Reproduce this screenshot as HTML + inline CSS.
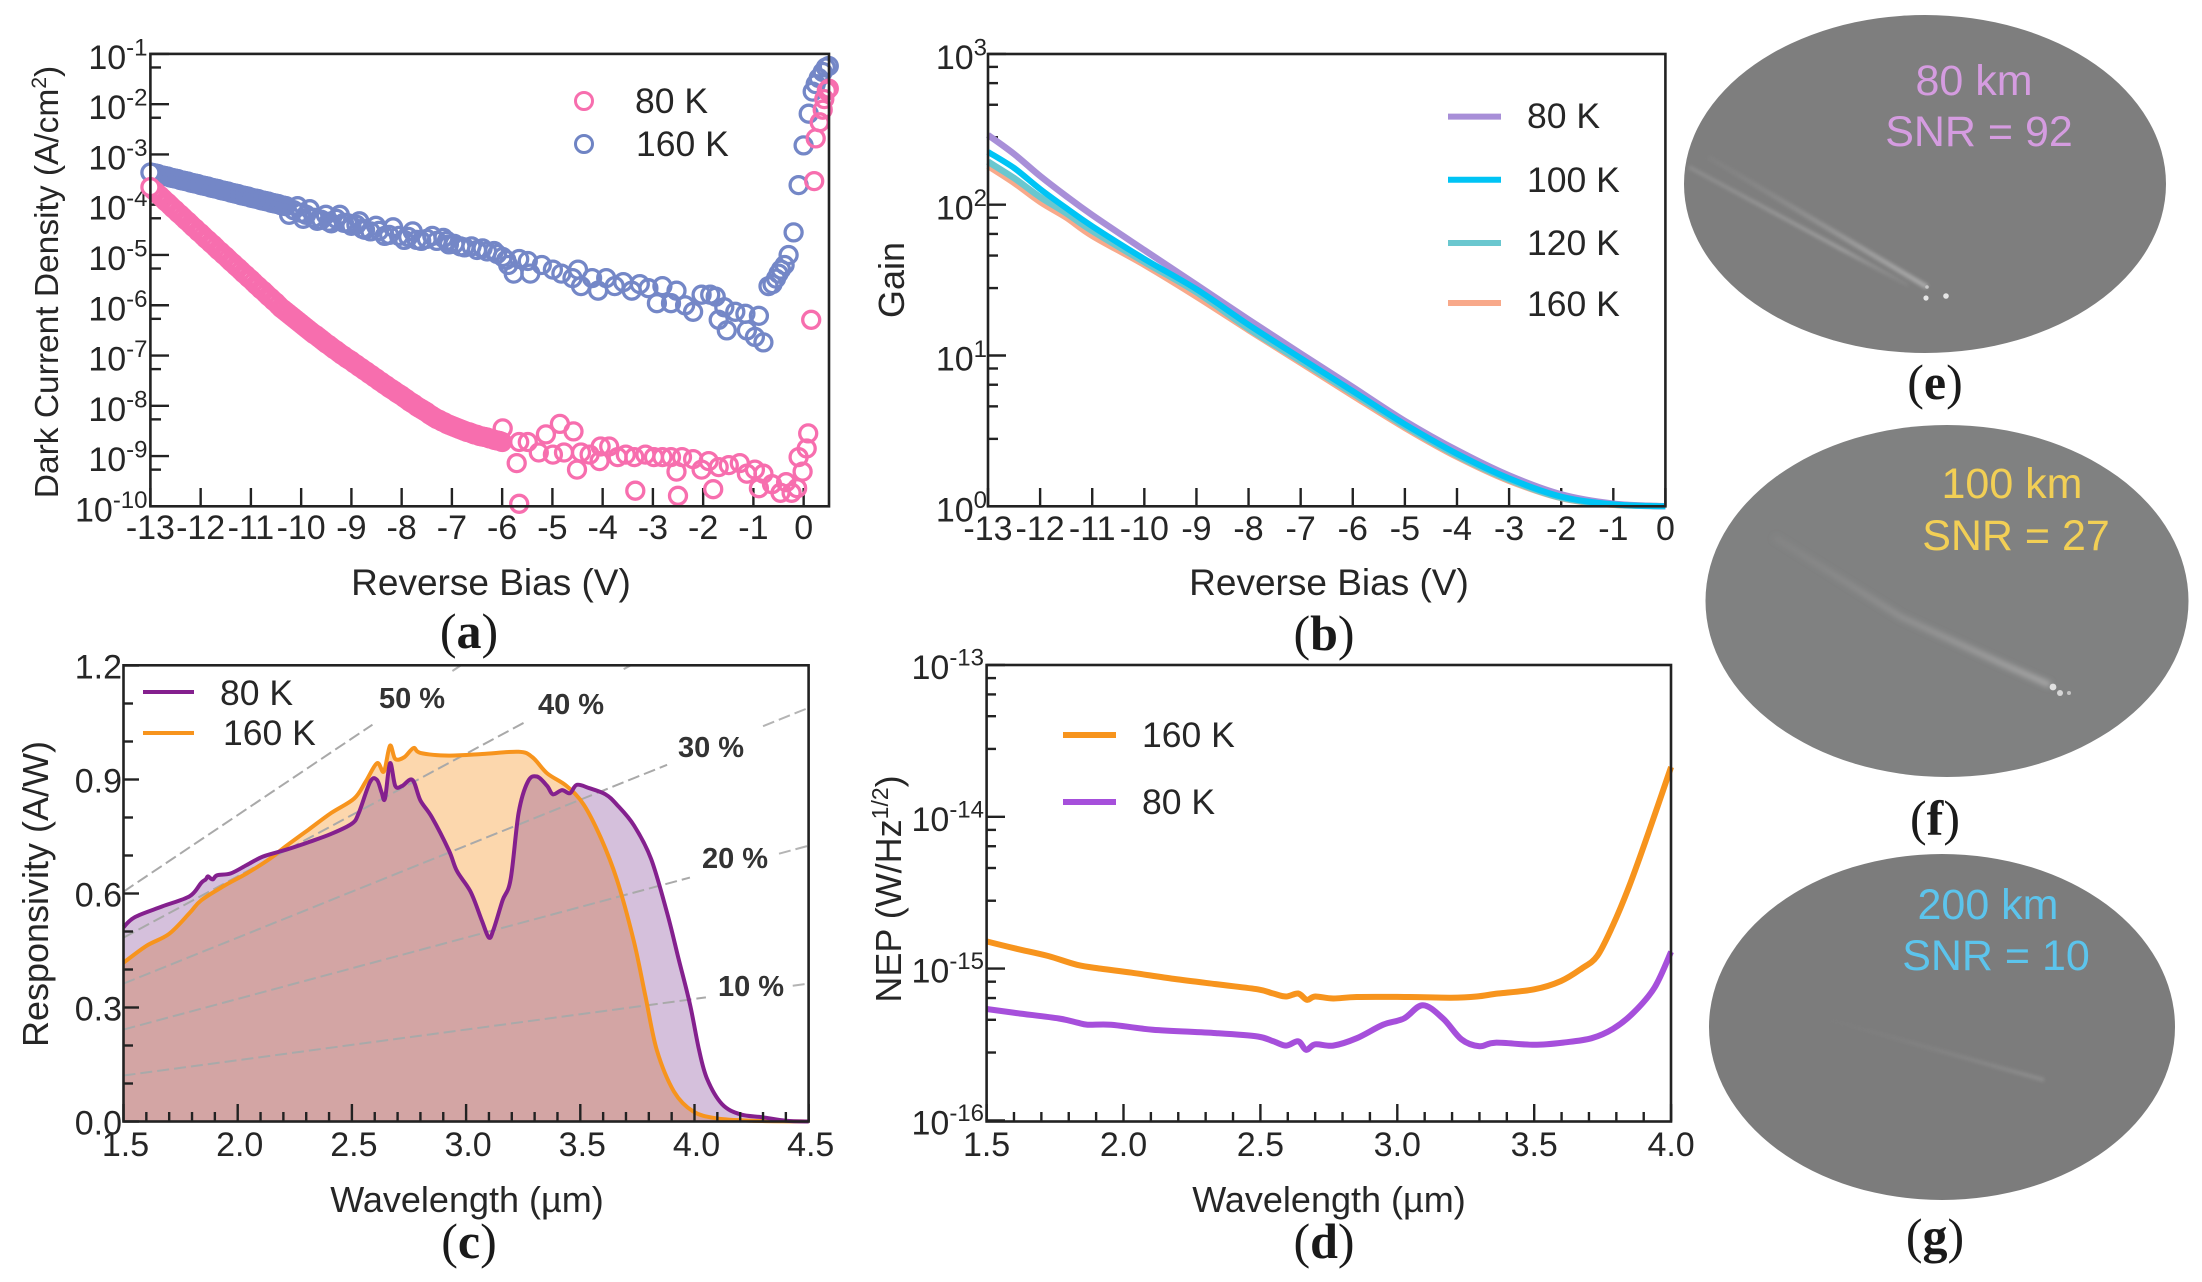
<!DOCTYPE html>
<html lang="en">
<head>
<meta charset="utf-8">
<title>Detector characterization panels</title>
<style>
  html, body { margin: 0; padding: 0; background: #fff; }
  body { width: 2202px; height: 1282px; overflow: hidden; }
  svg { display: block; font-family: "Liberation Sans", sans-serif; fill: #262626; }
  .title { font-size: 37px; }
  .tick { font-size: 34px; }
  .legend { font-size: 35.5px; }
  .panel { font-family: "Liberation Serif", serif; font-size: 50px; fill: #1a1a1a; text-anchor: middle; }
  .eta { font-size: 29px; font-weight: bold; text-anchor: middle; fill: #333; }
  .snr { font-size: 43px; text-anchor: middle; }
</style>
</head>
<body>
<svg id="fig" width="2202" height="1282" viewBox="0 0 2202 1282" xmlns="http://www.w3.org/2000/svg">
  <defs>
    <filter id="soft" x="-10%" y="-50%" width="120%" height="200%"><feGaussianBlur stdDeviation="1.6"/></filter>
    <filter id="softer" x="-10%" y="-50%" width="120%" height="200%"><feGaussianBlur stdDeviation="2.6"/></filter>
    <linearGradient id="fadeE1" gradientUnits="userSpaceOnUse" x1="1689" y1="167" x2="1908" y2="285"><stop offset="0" stop-color="#8f8f8f" stop-opacity=".8"/><stop offset=".7" stop-color="#9c9c9c"/><stop offset="1" stop-color="#8a8a8a" stop-opacity=".5"/></linearGradient>
    <linearGradient id="fadeE2" gradientUnits="userSpaceOnUse" x1="1708" y1="157" x2="1927" y2="287"><stop offset="0" stop-color="#858585" stop-opacity=".4"/><stop offset=".7" stop-color="#9c9c9c"/><stop offset="1" stop-color="#a8a8a8"/></linearGradient>
    <linearGradient id="fadeF" gradientUnits="userSpaceOnUse" x1="1774" y1="537" x2="2050" y2="685"><stop offset="0" stop-color="#8c8c8c" stop-opacity=".4"/><stop offset="1" stop-color="#a8a8a8"/></linearGradient>
    <linearGradient id="fadeG" gradientUnits="userSpaceOnUse" x1="1830" y1="1020" x2="2044" y2="1080"><stop offset="0" stop-color="#808080" stop-opacity=".2"/><stop offset="1" stop-color="#8e8e8e"/></linearGradient>
  </defs>

  <g id="panelA">
    <text class="title" x="491" y="595" text-anchor="middle">Reverse Bias (V)</text>
    <text class="title" transform="translate(58,282) rotate(-90)" text-anchor="middle" style="font-size:33.5px">Dark Current Density (A/cm<tspan dy="-12" font-size="21">2</tspan><tspan dy="12">)</tspan></text>
    <g>
      <circle cx="584" cy="101" r="8.5" fill="none" stroke="#f76eae" stroke-width="3"/>
      <circle cx="584" cy="144" r="8.5" fill="none" stroke="#6f84c4" stroke-width="3"/>
      <text class="legend" x="635" y="113">80 K</text>
      <text class="legend" x="636" y="156">160 K</text>
    </g>
    <text class="panel" x="469" y="648">(<tspan font-weight="bold">a</tspan>)</text>
  </g>

  <g id="panelB">
    <text class="title" x="1329" y="595" text-anchor="middle">Reverse Bias (V)</text>
    <text class="title" transform="translate(904,280) rotate(-90)" text-anchor="middle" style="font-size:36px">Gain</text>
    <g>
      <line x1="1448" x2="1501" y1="116.6" y2="116.6" stroke="#a88fd8" stroke-width="6"/>
      <line x1="1448" x2="1501" y1="179.7" y2="179.7" stroke="#00c4f5" stroke-width="6"/>
      <line x1="1448" x2="1501" y1="243" y2="243" stroke="#6ac7cf" stroke-width="6"/>
      <line x1="1448" x2="1501" y1="303" y2="303" stroke="#f8a98a" stroke-width="6"/>
      <text class="legend" x="1527" y="128">80 K</text>
      <text class="legend" x="1527" y="192">100 K</text>
      <text class="legend" x="1527" y="255">120 K</text>
      <text class="legend" x="1527" y="316">160 K</text>
    </g>
    <text class="panel" x="1324" y="650">(<tspan font-weight="bold">b</tspan>)</text>
  </g>

  <g id="panelC">
    <text class="title" x="467" y="1212" text-anchor="middle" style="font-size:36px">Wavelength (µm)</text>
    <text class="title" transform="translate(48,894) rotate(-90)" text-anchor="middle" style="font-size:36px">Responsivity (A/W)</text>
    <g>
      <text class="eta" x="412" y="708">50 %</text>
      <text class="eta" x="571" y="714">40 %</text>
      <text class="eta" x="711" y="757">30 %</text>
      <text class="eta" x="735" y="868">20 %</text>
      <text class="eta" x="751" y="996">10 %</text>
    </g>
    <g>
      <line x1="143" x2="194" y1="692" y2="692" stroke="#84208e" stroke-width="4"/>
      <line x1="143" x2="194" y1="733" y2="733" stroke="#f7941d" stroke-width="4"/>
      <text class="legend" x="220" y="705">80 K</text>
      <text class="legend" x="223" y="745">160 K</text>
    </g>
    <text class="panel" x="469" y="1258">(<tspan font-weight="bold">c</tspan>)</text>
  </g>

  <g id="panelD">
    <text class="title" x="1329" y="1212" text-anchor="middle" style="font-size:36px">Wavelength (µm)</text>
    <text class="title" transform="translate(901,889) rotate(-90)" text-anchor="middle" style="font-size:36px">NEP (W/Hz<tspan dy="-13" font-size="23">1/2</tspan><tspan dy="13">)</tspan></text>
    <g>
      <line x1="1063" x2="1116" y1="735" y2="735" stroke="#f7941d" stroke-width="6"/>
      <line x1="1063" x2="1116" y1="802" y2="802" stroke="#a64fdb" stroke-width="6"/>
      <text class="legend" x="1142" y="747">160 K</text>
      <text class="legend" x="1142" y="814">80 K</text>
    </g>
    <text class="panel" x="1324" y="1258">(<tspan font-weight="bold">d</tspan>)</text>
  </g>

  <g>
    <ellipse cx="1925" cy="184" rx="241" ry="169" fill="#7e7e7e"/>
    <line x1="1689" y1="167" x2="1908" y2="285" stroke="url(#fadeE1)" stroke-width="4" filter="url(#soft)"/>
    <line x1="1708" y1="157" x2="1927" y2="287" stroke="url(#fadeE2)" stroke-width="5" filter="url(#soft)"/>
    <circle cx="1926" cy="298" r="2.6" fill="#e6e6e6"/>
    <circle cx="1946" cy="296" r="2.8" fill="#e6e6e6"/>
    <circle cx="1927" cy="287" r="1.8" fill="#c8c8c8"/>
    <text class="snr" x="1974" y="95" fill="#d59ce0">80 km</text>
    <text class="snr" x="1979" y="146" fill="#d59ce0">SNR = 92</text>
    <text class="panel" x="1935" y="399">(<tspan font-weight="bold">e</tspan>)</text>
  </g>

  <g>
    <ellipse cx="1947" cy="601" rx="241.5" ry="176" fill="#808181"/>
    <polyline points="1774,537 1901,617 2005,665 2050,685" fill="none" stroke="url(#fadeF)" stroke-width="6" filter="url(#softer)"/>
    <circle cx="2053" cy="687" r="3.4" fill="#e0e0e0"/>
    <circle cx="2060" cy="693" r="3" fill="#d6d6d6"/>
    <circle cx="2069" cy="693" r="2" fill="#c4c4c4"/>
    <text class="snr" x="2012" y="498" fill="#f2cf55">100 km</text>
    <text class="snr" x="2016" y="550" fill="#f2cf55">SNR = 27</text>
    <text class="panel" x="1935" y="835">(<tspan font-weight="bold">f</tspan>)</text>
  </g>

  <g>
    <ellipse cx="1942" cy="1027" rx="233" ry="173" fill="#7c7c7c"/>
    <line x1="1830" y1="1020" x2="2044" y2="1080" stroke="url(#fadeG)" stroke-width="4" filter="url(#soft)"/>
    <text class="snr" x="1988" y="919" fill="#5cc4ec">200 km</text>
    <text class="snr" x="1996" y="970" fill="#5cc4ec">SNR = 10</text>
    <text class="panel" x="1935" y="1253">(<tspan font-weight="bold">g</tspan>)</text>
  </g>
</svg>

<script>
// ---------- Panel (a): dark current, values are log10(J in A/cm2) ----------
const biasTicks = [-13,-12,-11,-10,-9,-8,-7,-6,-5,-4,-3,-2,-1,0];
const darkDecades = [-1,-2,-3,-4,-5,-6,-7,-8,-9,-10];
const darkBias160K = [-13,-12.95,-12.9,-12.85,-12.8,-12.75,-12.7,-12.65,-12.6,-12.55,-12.5,-12.45,-12.4,-12.35,-12.3,-12.25,-12.2,-12.15,-12.1,-12.05,-12,-11.95,-11.9,-11.85,-11.8,-11.75,-11.7,-11.65,-11.6,-11.55,-11.5,-11.45,-11.4,-11.35,-11.3,-11.25,-11.2,-11.15,-11.1,-11.05,-11,-10.95,-10.9,-10.85,-10.8,-10.75,-10.7,-10.65,-10.6,-10.55,-10.5,-10.45,-10.4,-10.35,-10.3,
  -10.24,-10.15,-10.07,-10,-9.96,-9.9,-9.83,-9.75,-9.68,-9.6,-9.51,-9.45,-9.4,-9.3,-9.23,-9.15,-9.07,-9,-8.9,-8.84,-8.78,-8.73,-8.62,-8.51,-8.45,-8.34,-8.25,-8.17,-8.05,-7.95,-7.87,-7.78,-7.7,-7.61,-7.5,-7.39,-7.3,-7.17,-7.1,-7.06,-6.95,-6.83,-6.75,-6.61,-6.5,-6.39,-6.3,-6.16,-6.1,-5.99,-5.92,-5.88,-5.77,-5.66,-5.49,-5.44,-5.21,-4.99,-4.82,-4.6,-4.49,-4.43,-4.21,-4.09,-3.93,-3.76,-3.59,-3.42,-3.26,-3.09,-2.92,-2.81,-2.64,-2.53,-2.36,-2.2,-2.03,-1.86,-1.75,-1.69,-1.58,-1.53,-1.36,-1.16,-1.13,-0.97,-0.89,-0.8,
  -0.7,-0.62,-0.55,-0.5,-0.45,-0.38,-0.3,-0.2,-0.1,0,0.1,0.18,0.24,0.3,0.38,0.44,0.5];
const darkLogJ160K = [-3.36,-3.37,-3.38,-3.39,-3.41,-3.42,-3.43,-3.44,-3.46,-3.47,-3.48,-3.49,-3.51,-3.52,-3.53,-3.54,-3.56,-3.57,-3.58,-3.59,-3.61,-3.62,-3.63,-3.64,-3.66,-3.67,-3.68,-3.69,-3.71,-3.72,-3.73,-3.74,-3.76,-3.77,-3.78,-3.79,-3.81,-3.82,-3.83,-3.84,-3.86,-3.87,-3.88,-3.89,-3.91,-3.92,-3.93,-3.94,-3.96,-3.97,-3.98,-3.99,-4.01,-4.02,-4.03,
  -4.2,-4.11,-4.03,-4.16,-4.28,-4.2,-4.09,-4.26,-4.32,-4.3,-4.2,-4.34,-4.37,-4.28,-4.2,-4.36,-4.37,-4.42,-4.4,-4.33,-4.48,-4.5,-4.53,-4.42,-4.52,-4.62,-4.6,-4.45,-4.62,-4.7,-4.64,-4.53,-4.7,-4.72,-4.68,-4.62,-4.72,-4.66,-4.72,-4.79,-4.78,-4.83,-4.85,-4.83,-4.9,-4.87,-4.93,-4.92,-4.98,-5.04,-5.1,-5.2,-5.37,-5.08,-5.12,-5.37,-5.2,-5.29,-5.37,-5.46,-5.29,-5.62,-5.46,-5.71,-5.46,-5.62,-5.54,-5.71,-5.58,-5.66,-5.96,-5.62,-5.96,-5.71,-6,-6.13,-5.79,-5.79,-5.83,-6.29,-6.04,-6.5,-6.13,-6.17,-6.5,-6.63,-6.21,-6.74,
  -5.62,-5.58,-5.47,-5.37,-5.29,-5.2,-5,-4.55,-3.61,-2.82,-2.19,-1.75,-1.6,-1.48,-1.36,-1.27,-1.24];
const darkBias80K = [-13,-12.95,-12.9,-12.85,-12.8,-12.75,-12.7,-12.65,-12.6,-12.55,-12.5,-12.45,-12.4,-12.35,-12.3,-12.25,-12.2,-12.15,-12.1,-12.05,-12,-11.95,-11.9,-11.85,-11.8,-11.75,-11.7,-11.65,-11.6,-11.55,-11.5,-11.45,-11.4,-11.35,-11.3,-11.25,-11.2,-11.15,-11.1,-11.05,-11,-10.95,-10.9,-10.85,-10.8,-10.75,-10.7,-10.65,-10.6,-10.55,-10.5,-10.45,-10.4,-10.35,-10.3,-10.25,-10.2,-10.15,-10.1,-10.05,-10,-9.95,-9.9,-9.85,-9.8,-9.75,-9.7,-9.65,-9.6,-9.55,-9.5,-9.45,-9.4,-9.35,-9.3,-9.25,-9.2,-9.15,-9.1,-9.05,-9,-8.95,-8.9,-8.85,-8.8,-8.75,-8.7,-8.65,-8.6,-8.55,-8.5,-8.45,-8.4,-8.35,-8.3,-8.25,-8.2,-8.15,-8.1,-8.05,-8,-7.95,-7.9,-7.85,-7.8,-7.75,-7.7,-7.65,-7.6,-7.55,-7.5,-7.45,-7.4,-7.35,-7.3,-7.25,-7.2,-7.15,-7.1,-7.05,-7,-6.95,-6.9,-6.85,-6.8,-6.75,-6.7,-6.65,-6.6,-6.55,-6.5,-6.45,-6.4,-6.35,-6.3,-6.25,-6.2,-6.15,-6.1,-6.05,-6,
  -5.99,-5.71,-5.66,-5.66,-5.49,-5.27,-5.13,-4.99,-4.85,-4.77,-4.58,-4.51,-4.43,-4.26,-4.06,-4.04,-3.87,-3.7,-3.54,-3.37,-3.35,-3.15,-2.98,-2.81,-2.64,-2.53,-2.5,-2.42,-2.2,-2.03,-1.89,-1.8,-1.69,-1.49,-1.27,-1.13,-0.97,-0.89,-0.8,-0.63,-0.46,-0.35,-0.24,-0.13,-0.02,-0.1,0.06,0.09,0.15,0.21,0.24,0.32,0.38,0.41,0.46,0.5];
const darkLogJ80K = [-3.65,-3.7,-3.74,-3.79,-3.83,-3.88,-3.93,-3.97,-4.02,-4.07,-4.11,-4.16,-4.2,-4.25,-4.3,-4.34,-4.39,-4.44,-4.48,-4.53,-4.57,-4.62,-4.67,-4.71,-4.76,-4.8,-4.85,-4.9,-4.94,-4.99,-5.03,-5.08,-5.13,-5.17,-5.22,-5.26,-5.31,-5.36,-5.4,-5.45,-5.49,-5.54,-5.59,-5.63,-5.68,-5.72,-5.77,-5.82,-5.86,-5.91,-5.95,-6,-6.05,-6.09,-6.13,-6.17,-6.21,-6.25,-6.29,-6.33,-6.37,-6.41,-6.45,-6.49,-6.53,-6.57,-6.6,-6.64,-6.68,-6.72,-6.76,-6.79,-6.83,-6.87,-6.9,-6.94,-6.98,-7.01,-7.05,-7.08,-7.11,-7.15,-7.18,-7.22,-7.25,-7.29,-7.32,-7.36,-7.39,-7.43,-7.46,-7.5,-7.53,-7.57,-7.6,-7.64,-7.67,-7.7,-7.74,-7.77,-7.8,-7.84,-7.87,-7.91,-7.94,-7.97,-8.01,-8.04,-8.07,-8.1,-8.13,-8.17,-8.2,-8.23,-8.26,-8.28,-8.31,-8.33,-8.36,-8.38,-8.4,-8.42,-8.44,-8.46,-8.48,-8.5,-8.52,-8.53,-8.55,-8.57,-8.58,-8.6,-8.61,-8.62,-8.63,-8.65,-8.66,-8.68,-8.69,-8.7,-8.72,
  -8.45,-9.14,-9.95,-8.72,-8.72,-8.93,-8.57,-8.97,-8.36,-8.93,-8.51,-9.27,-8.93,-8.97,-9.1,-8.81,-8.81,-9.02,-8.97,-9.02,-9.69,-8.97,-9.02,-9.02,-9.02,-9.31,-9.79,-9.02,-9.06,-9.27,-9.1,-9.66,-9.22,-9.18,-9.14,-9.35,-9.27,-9.64,-9.35,-9.56,-9.73,-9.52,-9.73,-9.64,-9.31,-9.02,-8.85,-8.55,-6.29,-3.53,-2.68,-2.36,-2.11,-1.9,-1.73,-1.69];

// ---------- Panel (b): gain ----------
const gainDecades = [3,2,1,0];
const gainBias = [-13,-12.5,-12,-11.5,-11,-10,-9,-8,-7,-6,-5,-4,-3,-2,-1,0];
const gain160K = [180,139,104,82,62,39.8,24.5,14.7,8.9,5.4,3.3,2.12,1.47,1.13,1.02,1];
const gain120K = [193,150,112.5,88,67,41.7,26.3,15.1,9.2,5.6,3.4,2.17,1.5,1.14,1.03,1];
const gain100K = [224,175,127,95,72,43.7,27.5,16,9.6,5.8,3.5,2.23,1.53,1.16,1.03,1];
const gain80K = [290,217,155,114,85.5,50,29.5,17.3,10.3,6.17,3.68,2.35,1.6,1.2,1.04,1];

// ---------- Panel (c): responsivity ----------
const respXTicks = ["1.5","2.0","2.5","3.0","3.5","4.0","4.5"];
const respYTicks = ["0.0","0.3","0.6","0.9","1.2"];
const respWave80K = [1.5,1.55,1.67,1.79,1.84,1.86,1.87,1.89,1.91,1.97,2.04,2.11,2.21,2.31,2.41,2.5,2.53,2.58,2.61,2.63,2.645,2.667,2.69,2.72,2.765,2.8,2.85,2.925,2.96,3.02,3.07,3.1,3.12,3.16,3.195,3.23,3.27,3.31,3.355,3.38,3.42,3.455,3.485,3.54,3.61,3.66,3.735,3.81,3.88,3.93,3.98,4.02,4.055,4.12,4.2,4.3,4.4,4.5];
const resp80K = [0.511,0.538,0.566,0.593,0.628,0.637,0.645,0.637,0.648,0.653,0.675,0.697,0.715,0.735,0.757,0.784,0.812,0.894,0.899,0.866,0.85,0.943,0.883,0.883,0.899,0.845,0.801,0.713,0.659,0.604,0.527,0.484,0.505,0.582,0.637,0.812,0.894,0.908,0.883,0.861,0.872,0.864,0.886,0.877,0.861,0.834,0.779,0.691,0.549,0.429,0.309,0.188,0.112,0.046,0.019,0.011,0.002,0];
const respWave160K = [1.5,1.6,1.7,1.79,1.84,1.94,2.04,2.14,2.21,2.31,2.41,2.51,2.56,2.61,2.64,2.667,2.69,2.73,2.77,2.8,2.925,3.07,3.23,3.29,3.355,3.44,3.515,3.59,3.66,3.735,3.785,3.835,3.91,3.995,4.1,4.25,4.5];
const resp160K = [0.418,0.462,0.494,0.549,0.582,0.62,0.653,0.691,0.724,0.768,0.812,0.85,0.894,0.943,0.921,0.989,0.954,0.959,0.983,0.97,0.963,0.967,0.973,0.959,0.916,0.883,0.834,0.746,0.637,0.473,0.33,0.188,0.079,0.026,0.008,0.002,0];
const efficiencyLevels = [0.1,0.2,0.3,0.4,0.5];
const efficiencyGapStart = [4.05,3.98,3.88,3.27,2.59];
const efficiencyGapEnd = [4.43,4.37,4.3,3.69,2.94];

// ---------- Panel (d): NEP ----------
const nepXTicks = ["1.5","2.0","2.5","3.0","3.5","4.0"];
const nepDecades = [-13,-14,-15,-16];
const nepWave160K = [1.5,1.61,1.725,1.83,1.916,2.03,2.184,2.337,2.49,2.547,2.594,2.638,2.67,2.7,2.766,2.852,3.043,3.196,3.29,3.368,3.5,3.597,3.673,3.73,3.788,3.845,3.922,4];
const nep160K = [1.51e-15,1.35e-15,1.21e-15,1.06e-15,1e-15,9.4e-16,8.55e-16,7.9e-16,7.3e-16,6.85e-16,6.55e-16,6.85e-16,6.23e-16,6.55e-16,6.35e-16,6.5e-16,6.5e-16,6.43e-16,6.55e-16,6.85e-16,7.3e-16,8.27e-16,1e-15,1.21e-15,1.94e-15,3.42e-15,8.28e-15,2.13e-14];
const nepWave80K = [1.5,1.61,1.764,1.83,1.869,1.955,2.107,2.337,2.49,2.547,2.594,2.638,2.667,2.7,2.766,2.852,2.948,3.024,3.093,3.167,3.234,3.3,3.358,3.5,3.615,3.71,3.788,3.864,3.94,4];
const nep80K = [5.42e-16,5.09e-16,4.69e-16,4.41e-16,4.27e-16,4.27e-16,3.96e-16,3.76e-16,3.57e-16,3.32e-16,3.11e-16,3.32e-16,2.92e-16,3.17e-16,3.11e-16,3.48e-16,4.27e-16,4.69e-16,5.74e-16,4.69e-16,3.42e-16,3.08e-16,3.25e-16,3.15e-16,3.27e-16,3.48e-16,4.01e-16,5.15e-16,7.53e-16,1.29e-15];

const minorMantissas = [2.8,4.6,6.4,8.2];

// ---------- axis functions ----------
const xA = v => 150.4 + (v + 13) * 50.25;
const yA = e => 53.9 + (-1 - e) * 50.27;
const xB = v => 988 + (v + 13) * 52.11;
const yB = g => 506.3 - Math.log10(g) * 150.8;
const xC = w => 123.5 + (w - 1.5) * 228.4;
const yC = r => 1121.5 - r * 380;
const xD = w => 986.6 + (w - 1.5) * 273.8;
const yD = n => 665 + (-13 - Math.log10(n)) * 151.8;

// ---------- drawing helpers ----------
const NS = 'http://www.w3.org/2000/svg';
function mk(tag, attrs, parent, text) {
  const el = document.createElementNS(NS, tag);
  for (const k in attrs) el.setAttribute(k, attrs[k]);
  if (text !== undefined) el.textContent = text;
  parent.appendChild(el);
  return el;
}
function smoothOf(xs, ys, xf, yf) {
  const p = xs.map((x, i) => [xf(x), yf(ys[i])]);
  let d = 'M' + p[0][0].toFixed(1) + ' ' + p[0][1].toFixed(1);
  for (let i = 0; i < p.length - 1; i++) {
    const a = p[Math.max(i - 1, 0)], b = p[i], c = p[i + 1], e = p[Math.min(i + 2, p.length - 1)];
    d += 'C' + (b[0] + (c[0] - a[0]) / 6).toFixed(1) + ' ' + (b[1] + (c[1] - a[1]) / 6).toFixed(1) + ' ' +
         (c[0] - (e[0] - b[0]) / 6).toFixed(1) + ' ' + (c[1] - (e[1] - b[1]) / 6).toFixed(1) + ' ' +
         c[0].toFixed(1) + ' ' + c[1].toFixed(1);
  }
  return d;
}
function tickLine(parent, x1, y1, x2, y2, w) {
  const el = mk('line', {x1: x1, y1: y1, x2: x2, y2: y2, stroke: '#222', 'stroke-width': w || 2.4}, parent);
  
  
  return el;
}
function frame(parent, x0, y0, x1, y1) {
  const el = mk('rect', {x: x0, y: y0, width: x1 - x0, height: y1 - y0, fill: 'none', stroke: '#222', 'stroke-width': 2.6}, parent);
  
  
  return el;
}
function plainLabel(parent, x, y, anchor, str) {
  const el = mk('text', {x: x, y: y, 'text-anchor': anchor, class: 'tick'}, parent, str);
  
  
  return el;
}
function powerLabel(parent, x, y, exp) {
  const el = mk('text', {x: x, y: y, 'text-anchor': 'end', class: 'tick'}, parent);
  mk('tspan', {}, el, '10');
  mk('tspan', {dy: -13.5, 'font-size': 24}, el, String(exp));
  
  
  return el;
}

// ---------- panel a ----------
const gA = document.getElementById('panelA');
darkDecades.forEach(e => {
  tickLine(gA, 150.4, yA(e), 169, yA(e));
  powerLabel(gA, 147.5, yA(e) + 15, e);
  if (e > -10) tickLine(gA, 150.4, yA(e - 0.27), 161, yA(e - 0.27));
});
biasTicks.forEach(v => {
  tickLine(gA, xA(v), 506.3, xA(v), 488);
  plainLabel(gA, xA(v), 539, 'middle', String(v));
});
const ringsBlue = mk('g', {fill: 'none', stroke: '#7487c7', 'stroke-width': 3.3}, gA);


for (let i = darkBias160K.length - 1; i >= 0; i--) {
  const c = mk('circle', {cx: xA(darkBias160K[i]).toFixed(1), cy: yA(darkLogJ160K[i]).toFixed(1), r: 8.5, fill: i === 0 ? '#fff' : 'none'}, ringsBlue);
  
  
}
const ringsPink = mk('g', {fill: 'none', stroke: '#f76eae', 'stroke-width': 3.3}, gA);


for (let i = darkBias80K.length - 1; i >= 0; i--) {
  const c = mk('circle', {cx: xA(darkBias80K[i]).toFixed(1), cy: yA(darkLogJ80K[i]).toFixed(1), r: 8.5, fill: i === 0 ? '#fff' : 'none'}, ringsPink);
  
  
}
frame(gA, 150.4, 53.9, 829, 506.3);

// ---------- panel b ----------
const gB = document.getElementById('panelB');
gainDecades.forEach(e => {
  const v = Math.pow(10, e);
  tickLine(gB, 988, yB(v), 1006, yB(v));
  powerLabel(gB, 987, yB(v) + 15, e);
  if (e < 3) minorMantissas.forEach(m => tickLine(gB, 988, yB(m * v), 998, yB(m * v)));
});
biasTicks.forEach(v => {
  tickLine(gB, xB(v), 506.3, xB(v), 488);
  plainLabel(gB, xB(v), 540, 'middle', String(v));
});
const lineOrange = mk('path', {d: smoothOf(gainBias, gain160K, xB, yB), fill: 'none', stroke: '#f8a98a', 'stroke-width': 6}, gB);


const lineTeal = mk('path', {d: smoothOf(gainBias, gain120K, xB, yB), fill: 'none', stroke: '#6ac7cf', 'stroke-width': 6.5}, gB);


const linePurple = mk('path', {d: smoothOf(gainBias, gain80K, xB, yB), fill: 'none', stroke: '#a88fd8', 'stroke-width': 6.5}, gB);


const lineCyan = mk('path', {d: smoothOf(gainBias, gain100K, xB, yB), fill: 'none', stroke: '#00c4f5', 'stroke-width': 6}, gB);


frame(gB, 988, 54, 1665.4, 506.3);

// ---------- panel c ----------
const gC = document.getElementById('panelC');
const area160 = mk('path', {d: smoothOf(respWave160K, resp160K, xC, yC) + 'L' + xC(4.5) + ' ' + yC(0) + 'L' + xC(1.5) + ' ' + yC(0) + 'Z', fill: 'rgba(247,150,40,.38)'}, gC);


const area80 = mk('path', {d: smoothOf(respWave80K, resp80K, xC, yC) + 'L' + xC(4.5) + ' ' + yC(0) + 'L' + xC(1.5) + ' ' + yC(0) + 'Z', fill: 'rgba(124,58,146,.32)'}, gC);


efficiencyLevels.forEach((eta, i) => {
  const r = w => eta * w / 1.24;
  const endW = Math.min(4.5, 1.2 * 1.24 / eta);
  const seg1 = mk('line', {x1: xC(1.5), y1: yC(r(1.5)), x2: xC(efficiencyGapStart[i]), y2: yC(r(efficiencyGapStart[i])), stroke: '#a9a9a9', 'stroke-width': 2, 'stroke-dasharray': '12 5'}, gC);
  
  
  const seg2 = mk('line', {x1: xC(efficiencyGapEnd[i]), y1: yC(r(efficiencyGapEnd[i])), x2: xC(endW), y2: yC(r(endW)), stroke: '#b4b4b4', 'stroke-width': 2, 'stroke-dasharray': '12 5'}, gC);
  
  
});
const respLine160 = mk('path', {d: smoothOf(respWave160K, resp160K, xC, yC), fill: 'none', stroke: '#f7941d', 'stroke-width': 4, 'stroke-linejoin': 'round'}, gC);


const respLine80 = mk('path', {d: smoothOf(respWave80K, resp80K, xC, yC), fill: 'none', stroke: '#84208e', 'stroke-width': 4, 'stroke-linejoin': 'round'}, gC);


respXTicks.forEach(t => {
  const w = parseFloat(t);
  tickLine(gC, xC(w), 1121.5, xC(w), 1104);
  plainLabel(gC, xC(w) + 2, 1156, 'middle', t);
  if (w < 4.5) [0.1,0.2,0.3,0.4].forEach(d => tickLine(gC, xC(w + d), 1121.5, xC(w + d), 1112));
});
respYTicks.forEach(t => {
  const r = parseFloat(t);
  tickLine(gC, 123.5, yC(r), 139, yC(r));
  plainLabel(gC, 122, yC(r) + 13, 'end', t);
  if (r < 1.2) [0.1,0.2].forEach(d => tickLine(gC, 123.5, yC(r + d), 133, yC(r + d)));
});
frame(gC, 123.5, 665.3, 808.6, 1121.5);

// ---------- panel d ----------
const gD = document.getElementById('panelD');
nepDecades.forEach(e => {
  const v = Math.pow(10, e);
  tickLine(gD, 986.6, yD(v), 1005, yD(v));
  powerLabel(gD, 984, yD(v) + 14, e);
  if (e < -13) minorMantissas.forEach(m => tickLine(gD, 986.6, yD(m * v), 996, yD(m * v)));
});
nepXTicks.forEach(t => {
  const w = parseFloat(t);
  tickLine(gD, xD(w), 1121.5, xD(w), 1104);
  plainLabel(gD, xD(w), 1156, 'middle', t);
  if (w < 4) [0.1,0.2,0.3,0.4].forEach(d => tickLine(gD, xD(w + d), 1121.5, xD(w + d), 1112));
});
const nepLine160 = mk('path', {d: smoothOf(nepWave160K, nep160K, xD, yD), fill: 'none', stroke: '#f7941d', 'stroke-width': 6, 'stroke-linejoin': 'round'}, gD);


const nepLine80 = mk('path', {d: smoothOf(nepWave80K, nep80K, xD, yD), fill: 'none', stroke: '#a64fdb', 'stroke-width': 6, 'stroke-linejoin': 'round'}, gD);


frame(gD, 986.6, 665, 1671, 1121.5);
</script>
</body>
</html>
